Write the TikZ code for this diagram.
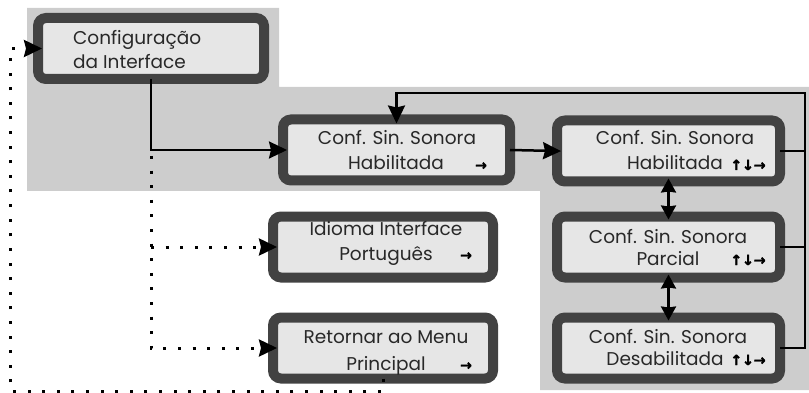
\documentclass[tikz,border=0pt]{standalone}
\usepackage{fontspec}
\setmainfont{Poppins}
\newfontfamily\arrowfont[FakeBold=2.5]{DejaVu Sans Bold}
\usetikzlibrary{arrows.meta,calc}

\definecolor{panelgray}{RGB}{205,205,205}
\definecolor{boxedge}{RGB}{66,66,66}
\definecolor{boxfill}{RGB}{230,230,230}
\definecolor{txt}{RGB}{40,40,40}

\tikzset{
  menubox/.style={draw=boxedge, fill=boxfill, line width=10pt, rounded corners=8pt,
    minimum width=#1, minimum height=61pt, inner sep=0pt, outer sep=0pt},
  menubox/.default=223pt,
  lbl/.style={font=\fontsize{18.5}{20}\selectfont, text=txt, inner sep=0pt, anchor=base},
  keys/.style={font=\arrowfont\fontsize{14}{16}\selectfont, text=black, inner sep=0pt, anchor=base},
  conn/.style={line width=2.5pt, draw=black},
  tip/.style={-{Stealth[length=18pt,width=17pt,inset=2pt]}, shorten >=-4pt},
  duo/.style={{Stealth[length=14pt,width=15pt,inset=1pt]}-{Stealth[length=14pt,width=15pt,inset=1pt]},
    shorten >=-3pt, shorten <=-3pt},
  dotline/.style={line width=3pt, dash pattern=on 3pt off 11.6pt, draw=black}
}

\begin{document}
\begin{tikzpicture}[x=1pt, y=-1pt]
\useasboundingbox (0,0) rectangle (809,393);

% grey panel behind the active branch
\fill[panelgray] (27,8) -- (279,8) -- (279,87) -- (809,87) -- (809,390)
  -- (540,390) -- (540,191) -- (27,191) -- cycle;

% menu boxes (outline centred on these sizes)
\node[menubox=226pt] (cfg) at (151,48.5) {};
\node[menubox=227pt] (hab) at (396.5,150) {};
\node[menubox] (shab) at (668.5,151) {};
\node[menubox] (spar) at (668.5,247) {};
\node[menubox] (sdes) at (668.5,348) {};
\node[menubox=220pt] (idi) at (383,247) {};
\node[menubox=220pt] (ret) at (383,348) {};

% box texts
\node[lbl, anchor=base west] (cfgA) at (73,45) {Configuração};
\node[lbl, anchor=base west] (cfgB) at (73,69) {da Interface};

\node[lbl] (habA) at (397,145) {Conf. Sin. Sonora};
\node[lbl] (habB) at (396,170) {Habilitada};
\node[keys] (habK) at (481,170) {→};

\node[lbl] (shabA) at (675,145) {Conf. Sin. Sonora};
\node[lbl] (shabB) at (675,170) {Habilitada};
\node[keys] (shabK) at (748,170) {↑↓→};

\node[lbl] (sparA) at (668,243) {Conf. Sin. Sonora};
\node[lbl] (sparB) at (668,265) {Parcial};
\node[keys] (sparK) at (748,265) {↑↓→};

\node[lbl] (sdesA) at (668,343) {Conf. Sin. Sonora};
\node[lbl] (sdesB) at (665,365) {Desabilitada};
\node[keys] (sdesK) at (748,365) {↑↓→};

\node[lbl] (idiA) at (386,235) {Idioma Interface};
\node[lbl] (idiB) at (386,260) {Português};
\node[keys] (idiK) at (466,260) {→};

\node[lbl] (retA) at (386,343) {Retornar ao Menu};
\node[lbl] (retB) at (386,370) {Principal};
\node[keys] (retK) at (466,370) {→};

% solid connectors
\draw[conn, tip] (cfg.south) |- (hab.west);
\draw[conn, tip] (hab.east) -- (shab.west);
\draw[conn, duo] (shab.south) -- (spar.north);
\draw[conn, duo] (spar.south) -- (sdes.north);

\coordinate (rail) at (805,93);
\draw[conn] (shab.east) -- (shab.east -| rail);
\draw[conn] (spar.east) -- (spar.east -| rail);
\draw[conn, tip] (sdes.east) -| (rail) -| (hab.north);

% dotted connectors
\coordinate (trunk) at (151,156);
\coordinate (loop) at (10,391);
\draw[dotline, tip] (trunk) |- (ret.west);
\draw[dotline, tip] (trunk |- idi.west) -- (idi.west);
\draw[dotline, tip] (ret.south) |- (loop) |- (cfg.west);
\end{tikzpicture}
\end{document}
